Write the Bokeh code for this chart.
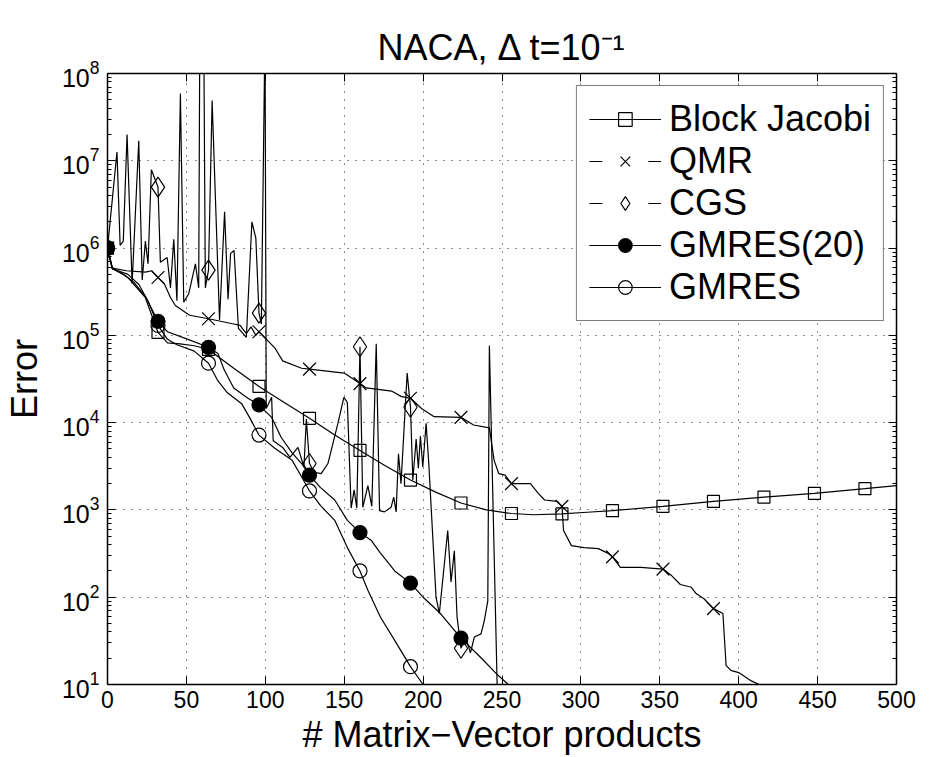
from bokeh.plotting import figure
from bokeh.models import LogAxis, LinearAxis, FixedTicker, Legend, LegendItem, Range1d
from bokeh.embed import file_html
from bokeh.resources import INLINE

FONT = "Liberation Sans"

# ---------------- data ----------------
x_ticks = [0, 50, 100, 150, 200, 250, 300, 350, 400, 450, 500]
y_major = [1e1, 1e2, 1e3, 1e4, 1e5, 1e6, 1e7, 1e8]

bj_x = [0, 3, 13, 24, 32, 38, 46, 55, 64, 80, 96, 112, 128, 144, 160, 176, 192,
        208, 224, 240, 256, 270, 288, 304, 320, 352, 384, 416, 448, 480, 500]
bj_y = [1.0e6, 6.0e5, 4.6e5, 2.7e5, 1.08e5, 8.2e4, 8.0e4, 7.6e4, 6.9e4, 4.2e4, 2.6e4,
        1.7e4, 1.12e4, 7.2e3, 4.8e3, 3.2e3, 2.2e3, 1.6e3, 1.2e3, 1.0e3, 9.1e2, 8.8e2,
        9.0e2, 9.4e2, 9.8e2, 1.1e3, 1.25e3, 1.4e3, 1.55e3, 1.75e3, 1.9e3]
bj_mx = [0, 32, 64, 96, 128, 160, 192, 224, 256, 288, 320, 352, 384, 416, 448, 480]

qmr_x = [0, 3, 12, 24, 28, 32, 36, 40, 43, 52, 64, 80, 84, 88, 91, 94, 96, 106, 111,
         123, 128, 150, 160, 164, 180, 186, 192, 199, 207, 224, 232, 242, 245, 248,
         252, 256, 268, 273, 277, 285, 288, 289, 294, 302, 311, 317, 320, 325, 338,
         352, 357, 363, 370, 373, 378, 384, 390, 392, 395, 400, 408, 413, 418]
qmr_y = [1.0e6, 5.9e5, 5.5e5, 5.3e5, 5.5e5, 4.6e5, 3.9e5, 2.7e5, 2.2e5, 1.7e5, 1.55e5,
         1.35e5, 1.3e5, 1.05e5, 1.25e5, 1.0e5, 1.1e5, 7.2e4, 5.1e4, 4.2e4, 4.1e4,
         3.7e4, 2.8e4, 2.5e4, 2.3e4, 2.0e4, 1.9e4, 1.45e4, 1.17e4, 1.15e4, 9.4e3,
         8.7e3, 3.7e3, 2.6e3, 2.5e3, 2.0e3, 2.0e3, 1.55e3, 1.3e3, 1.25e3, 1.1e3,
         5.8e2, 3.9e2, 3.7e2, 3.6e2, 3.2e2, 2.9e2, 2.2e2, 2.2e2, 2.1e2, 1.8e2, 1.4e2,
         1.3e2, 1.1e2, 96, 74, 65, 16.6, 14.5, 13.7, 11, 10, 8]
qmr_mx = [0, 32, 64, 96, 128, 160, 192, 224, 256, 288, 320, 352, 384]

cgs_x = [0, 6, 8, 10, 12.4, 15.6, 19.8, 22, 24, 25.7, 27.8, 32, 33.5, 37.8, 39.9, 42,
         44, 46.2, 48.3, 51.5, 55.7, 57.8, 58.5, 61, 62, 64, 66.3, 71, 74.2, 76.4, 78,
         80.2, 83, 88, 91.5, 94, 96, 97.5, 99.8, 100.6, 104, 105, 109, 111, 115.6,
         120.7, 124.5, 126, 128, 131, 135.4, 139.7, 146, 149.8, 152, 154.4, 156.3,
         158, 160, 161.8, 165, 167.5, 170.3, 172.4, 175.5, 179.7, 181.4, 182.9,
         184.4, 186, 189.9, 192, 193.5, 195.6, 197, 198.3, 199.8, 201.9, 203.6,
         208.2, 210.3, 215.6, 217.7, 219.8, 221.5, 224, 227, 230, 232.5, 236.7,
         238.8, 241, 242, 247.3]
cgs_y = [1.0e6, 1.26e7, 1.07e6, 1.2e6, 2.0e7, 3.9e5, 1.7e7, 4.3e5, 1.2e6, 6.6e5,
         7.9e6, 5.0e6, 6.9e5, 7.8e5, 3.5e5, 1.26e6, 2.5e5, 5.9e7, 2.4e5, 3.0e5,
         6.6e5, 3.5e5, 3e8, 3e8, 3.5e5, 5.6e5, 4.9e7, 1.5e5, 2.6e6, 2.6e5, 8.7e5,
         9.4e5, 1.2e5, 9.5e4, 2.0e6, 1.3e6, 1.8e5, 1.35e5, 3e8, 1.45e4, 1.95e4,
         6.2e3, 5.5e3, 5.2e3, 4.0e3, 5.2e3, 3.1e3, 1.1e4, 3.4e3, 2.7e3, 2.6e3,
         3.4e3, 9.8e3, 1.95e4, 1.7e4, 1.05e3, 1.7e3, 1.05e3, 7.4e4, 1.07e3, 1.9e3,
         1.1e3, 8.0e4, 9.8e2, 9.5e2, 1.07e3, 1.4e3, 9.5e2, 4.4e3, 2.0e3, 3.7e4,
         1.5e4, 2.2e3, 6.5e3, 3.0e3, 7.0e3, 3.1e3, 9.8e3, 3.4e3, 1.0e2, 65, 5.8e2,
         1.5e2, 3.4e2, 60, 26, 35, 23, 35, 38, 54, 91, 7.6e4, 5]
cgs_mx = [0, 32, 64, 96, 128, 160, 192, 224]

g20_x = [0, 3, 10, 17, 24, 32, 38, 51, 64, 70, 74, 80, 89, 96, 104, 110, 117, 123,
         128, 135, 144, 152, 160, 167, 173, 182, 192, 200, 211, 224, 237, 247, 254, 258]
g20_y = [1.0e6, 5.8e5, 5.0e5, 4.0e5, 2.8e5, 1.45e5, 1.1e5, 9.0e4, 7.3e4, 6.2e4, 4.0e4,
         2.5e4, 1.9e4, 1.6e4, 1.15e4, 6.8e3, 4.5e3, 3.4e3, 2.5e3, 1.8e3, 1.3e3, 7.6e2,
         5.5e2, 4.5e2, 3.2e2, 2.0e2, 1.45e2, 1.0e2, 65, 34, 20, 13, 10, 9]
g20_mx = [0, 32, 64, 96, 128, 160, 192, 224]

gm_x = [0, 3, 13, 20, 26, 32, 38, 44, 55, 64, 70, 76, 85, 90, 96, 106, 117, 123, 128,
        135, 144, 152, 160, 165, 173, 182, 192, 200, 203]
gm_y = [1.0e6, 5.8e5, 5.0e5, 3.8e5, 2.4e5, 1.3e5, 9.0e4, 7.8e4, 6.6e4, 4.8e4, 3.0e4,
        2.2e4, 1.65e4, 1.15e4, 7.2e3, 5.1e3, 3.7e3, 2.4e3, 1.65e3, 1.12e3, 7.6e2,
        3.7e2, 2.0e2, 1.2e2, 59, 32, 16, 10, 8]
gm_mx = [0, 32, 64, 96, 128, 160, 192]


def pick(xs, ys, mx):
    d = dict(zip(xs, ys))
    return [d[m] for m in mx]


# ---------------- figure ----------------
p = figure(width=930, height=757, x_range=Range1d(0, 500), y_range=Range1d(10, 1e8),
           y_axis_type="log", output_backend="svg", toolbar_location=None,
           min_border_left=106, min_border_right=34, min_border_top=73,
           min_border_bottom=73)
p.background_fill_color = "white"
p.border_fill_color = "white"
p.outline_line_color = None

xt = FixedTicker(ticks=x_ticks, minor_ticks=[])
y_minor = [m * d for d in y_major[:-1] for m in range(2, 10)]
yt = FixedTicker(ticks=y_major, minor_ticks=y_minor)

# main axes
xa = p.below[0]
xa.ticker = xt
ya = p.left[0]
ya.ticker = yt
for ax in (xa, ya):
    ax.axis_line_width = 1.5
    ax.axis_line_color = "black"
    ax.major_tick_in = 8
    ax.major_tick_out = 0
    ax.major_tick_line_color = "black"
    ax.major_label_text_font = FONT
    ax.major_label_text_color = "black"
    ax.axis_label_text_font = FONT
    ax.axis_label_text_font_size = "36px"
    ax.axis_label_text_font_style = "normal"
    ax.axis_label_text_color = "black"
xa.major_label_text_font_size = "23px"
ya.major_label_text_font_size = "25px"
xa.minor_tick_in = 0
xa.minor_tick_out = 0
ya.minor_tick_in = 4
ya.minor_tick_out = 0
ya.minor_tick_line_color = "black"
xa.major_label_standoff = 6
xa.axis_label_standoff = 3
ya.major_label_standoff = 8
ya.axis_label_standoff = 14
xa.axis_label = "# Matrix\u2212Vector products"
ya.axis_label = "Error"

# box axes (top / right), labels not drawn
top = LinearAxis(ticker=xt, major_label_text_font_size="10px",
                 major_label_text_color=None, major_label_standoff=0,
                 major_tick_in=8, major_tick_out=0, minor_tick_in=0, minor_tick_out=0,
                 axis_line_width=1.5, axis_line_color="black")
right = LogAxis(ticker=yt, major_label_text_font_size="10px",
                major_label_text_color=None, major_label_standoff=0,
                major_tick_in=8, major_tick_out=0, minor_tick_in=4, minor_tick_out=0,
                axis_line_width=1.5, axis_line_color="black")
p.add_layout(top, "above")
p.add_layout(right, "right")

# grid
p.xgrid.ticker = xt
p.ygrid.ticker = yt
for g in (p.xgrid, p.ygrid):
    g.grid_line_color = "black"
    g.grid_line_dash = "1 7"
    g.grid_line_width = 1
    g.grid_line_alpha = 0.9

# title
p.title.text = "NACA, \u0394 t=10\u207b\u00b9"
p.title.align = "center"
p.title.vertical_align = "middle"
p.title.text_font = FONT
p.title.text_font_size = "36px"
p.title.text_font_style = "normal"
p.title.text_color = "black"

LW = 1.2
bj_line = p.line(bj_x, bj_y, line_color="black", line_width=LW)
qmr_line = p.line(qmr_x, qmr_y, line_color="black", line_width=LW)
cgs_line = p.line(cgs_x, cgs_y, line_color="black", line_width=LW)
g20_line = p.line(g20_x, g20_y, line_color="black", line_width=LW)
gm_line = p.line(gm_x, gm_y, line_color="black", line_width=LW)

bj_m = p.scatter(bj_mx, pick(bj_x, bj_y, bj_mx), marker="square", size=12,
                 fill_color=None, line_color="black", line_width=1.2)
qmr_m = p.scatter(qmr_mx, pick(qmr_x, qmr_y, qmr_mx), marker="x", size=18,
                  line_color="black", line_width=1.2)
cgs_m = p.scatter(cgs_mx, pick(cgs_x, cgs_y, cgs_mx), marker="diamond", size=20,
                  fill_color=None, line_color="black", line_width=1.2)
g20_m = p.scatter(g20_mx, pick(g20_x, g20_y, g20_mx), marker="circle", size=14,
                  fill_color="black", line_color="black", line_width=1.2)
gm_m = p.scatter(gm_mx, pick(gm_x, gm_y, gm_mx), marker="circle", size=14,
                 fill_color=None, line_color="black", line_width=1.2)

# legend-only dashed lines (outside the visible range)
qmr_leg = p.line([-20, -10], [1, 1], line_color="black", line_width=LW, line_dash="13 46")
cgs_leg = p.line([-20, -10], [1, 1], line_color="black", line_width=LW, line_dash="13 46")

legend = Legend(items=[
    LegendItem(label="Block Jacobi", renderers=[bj_line, bj_m]),
    LegendItem(label="QMR", renderers=[qmr_leg, qmr_m]),
    LegendItem(label="CGS", renderers=[cgs_leg, cgs_m]),
    LegendItem(label="GMRES(20)", renderers=[g20_line, g20_m]),
    LegendItem(label="GMRES", renderers=[gm_line, gm_m]),
], location="top_right", margin=12, padding=12, spacing=0, glyph_width=72,
    glyph_height=34, label_height=42, label_standoff=8, label_text_font=FONT,
    label_text_font_size="36px", label_text_color="black",
    border_line_color="black", border_line_width=1.5, background_fill_alpha=1.0)
p.add_layout(legend)

open("out.html", "w").write(file_html(p, INLINE))
